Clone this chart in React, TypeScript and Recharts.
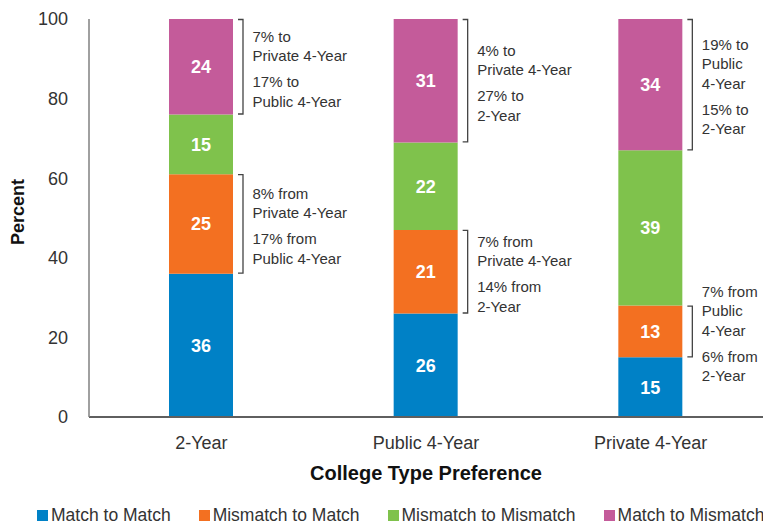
import React from 'react';
import { BarChart, Bar, XAxis, YAxis, Legend, LabelList, Label } from 'recharts';

const categories = ['2-Year', 'Public 4-Year', 'Private 4-Year'];
const matchToMatch = [36, 26, 15];
const mismatchToMatch = [25, 21, 13];
const mismatchToMismatch = [15, 22, 39];
const matchToMismatch = [24, 31, 34];
const yTicks = [0, 20, 40, 60, 80, 100];
const seriesNames = ['Match to Match', 'Mismatch to Match', 'Mismatch to Mismatch', 'Match to Mismatch'];
const seriesKeys = ['m2m', 'mm2m', 'mm2mm', 'm2mm'];
const colors = ['#0081C6', '#F37021', '#7FC24C', '#C45B9A'];
const xTitle = 'College Type Preference';
const yTitle = 'Percent';

const mismatchToMatchNotes = [
  [['8% from', 'Private 4-Year'], ['17% from', 'Public 4-Year']],
  [['7% from', 'Private 4-Year'], ['14% from', '2-Year']],
  [['7% from', 'Public', '4-Year'], ['6% from', '2-Year']],
];
const matchToMismatchNotes = [
  [['7% to', 'Private 4-Year'], ['17% to', 'Public 4-Year']],
  [['4% to', 'Private 4-Year'], ['27% to', '2-Year']],
  [['19% to', 'Public', '4-Year'], ['15% to', '2-Year']],
];

const data = categories.map((c, i) => ({
  category: c,
  m2m: matchToMatch[i],
  mm2m: mismatchToMatch[i],
  mm2mm: mismatchToMismatch[i],
  m2mm: matchToMismatch[i],
}));

const FONT = "'Liberation Sans', Arial, Helvetica, sans-serif";
const TEXT = '#333333';
const PLOT_TOP = 19;

const makeNote = (notes: string[][][]) => (props: any) => {
  const vb = props.viewBox || {};
  const x = props.x ?? vb.x;
  const y = props.y ?? vb.y;
  const width = props.width ?? vb.width;
  const height = props.height ?? vb.height;
  const index = props.index;
  const groups = notes[index];
  if (!groups) return null;
  const top = Math.max(PLOT_TOP, Math.min(y, y + height));
  const bottom = Math.max(y, y + height);
  const right = x + width;
  const bx = right + 10;
  const lineGap = 19.5;
  const groupGap = 26;
  const items: { line: string; off: number }[] = [];
  let cur = 0;
  groups.forEach((g) => {
    g.forEach((line, li) => {
      if (items.length) cur += li === 0 ? groupGap : lineGap;
      items.push({ line, off: cur });
    });
  });
  const start = (top + bottom) / 2 + 2 - cur / 2;
  return (
    <g>
      <path
        d={`M${bx - 5},${top + 0.5}H${bx}V${bottom - 0.5}H${bx - 5}`}
        stroke="#444"
        strokeWidth={1.3}
        fill="none"
      />
      {items.map((it, k) => (
        <text
          key={k}
          x={right + 19.5}
          y={start + it.off}
          dy="0.36em"
          fontSize={15}
          fontFamily={FONT}
          fill={TEXT}
        >
          {it.line}
        </text>
      ))}
    </g>
  );
};

const renderLegend = () => (
  <div
    style={{
      display: 'flex',
      paddingLeft: 37,
      height: 20,
      alignItems: 'center',
      whiteSpace: 'nowrap',
      fontFamily: FONT,
      fontSize: 17.5,
      color: TEXT,
    }}
  >
    {seriesNames.map((n, i) => (
      <div key={n} style={{ display: 'flex', alignItems: 'center', marginRight: 28 }}>
        <span
          style={{ display: 'inline-block', width: 11, height: 11, background: colors[i], marginRight: 3 }}
        />
        {n}
      </div>
    ))}
  </div>
);

export default function App() {
  return (
    <div style={{ position: 'absolute', left: 0, top: 0 }}>
      <BarChart
        width={763}
        height={525}
        data={data}
        margin={{ top: 19, right: 0, bottom: 0, left: 0 }}
        style={{ fontFamily: FONT }}
      >
        <XAxis
          dataKey="category"
          height={88}
          tickLine={false}
          tickSize={0}
          tickMargin={19}
          axisLine={{ stroke: '#5f5f5f', strokeWidth: 2 }}
          tick={{ fontSize: 18, fill: TEXT, fontFamily: FONT }}
        >
          <Label
            content={(p: any) => {
              const vb = p.viewBox;
              return (
                <text
                  x={vb.x + vb.width / 2}
                  y={vb.y + 63}
                  textAnchor="middle"
                  fontSize={20}
                  fontWeight="bold"
                  fontFamily={FONT}
                  fill="#111"
                >
                  {xTitle}
                </text>
              );
            }}
          />
        </XAxis>
        <YAxis
          width={89}
          domain={[0, 100]}
          allowDataOverflow
          ticks={yTicks}
          tickLine={false}
          tickSize={0}
          tickMargin={21}
          axisLine={{ stroke: '#808080', strokeWidth: 1.5 }}
          tick={{ fontSize: 18, fill: TEXT, fontFamily: FONT }}
        >
          <Label
            content={() => (
              <text
                x={18}
                y={212}
                transform="rotate(-90 18 212)"
                textAnchor="middle"
                dy="0.36em"
                fontSize={18}
                fontWeight="bold"
                fontFamily={FONT}
                fill="#111"
              >
                {yTitle}
              </text>
            )}
          />
        </YAxis>
        <Legend verticalAlign="bottom" content={renderLegend} wrapperStyle={{ left: 0 }} />
        {seriesKeys.map((k, i) => (
          <Bar key={k} dataKey={k} name={seriesNames[i]} stackId="a" fill={colors[i]} barSize={64} isAnimationActive={false}>
            <LabelList
              dataKey={k}
              position="center"
              fill="#ffffff"
              fontSize={18}
              fontWeight="bold"
              fontFamily={FONT}
            />
            {k === 'mm2m' && <LabelList dataKey={k} content={makeNote(mismatchToMatchNotes)} />}
            {k === 'm2mm' && <LabelList dataKey={k} content={makeNote(matchToMismatchNotes)} />}
          </Bar>
        ))}
      </BarChart>
    </div>
  );
}
